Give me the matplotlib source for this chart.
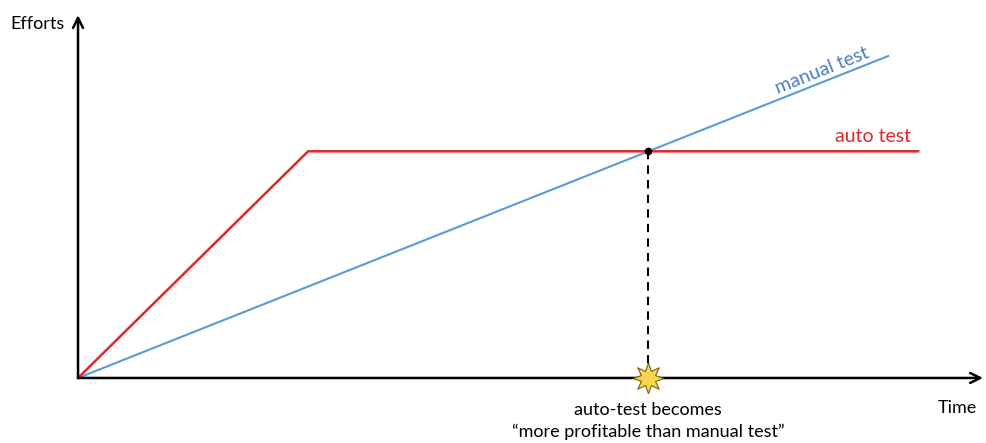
import matplotlib.pyplot as plt

plt.rcParams['font.family'] = ['Lato', 'DejaVu Sans']

# data (time, efforts) in arbitrary units
manual_t = [0, 10.0]
manual_e = [0, 10.0]
auto_t = [0, 2.84, 10.37]
auto_e = [0, 7.04, 7.04]
break_even = (7.04, 7.04)

blue = '#5b9bd5'
red = '#e3262b'

fig = plt.figure(figsize=(9.87, 4.43), dpi=100)
ax = fig.add_axes([0, 0, 1, 1])
ax.set_xlim(-0.963, 11.22)
ax.set_ylim(-2.02, 11.74)
ax.axis('off')

# axes arrows
ax.annotate('', xy=(11.17, 0), xytext=(0, 0),
            arrowprops=dict(arrowstyle='->', color='black', lw=1.8,
                            mutation_scale=18, shrinkA=0, shrinkB=0))
ax.annotate('', xy=(0, 11.27), xytext=(0, 0),
            arrowprops=dict(arrowstyle='->', color='black', lw=1.8,
                            mutation_scale=18, shrinkA=0, shrinkB=0))

ax.plot(manual_t, manual_e, color=blue, lw=1.5)
ax.plot(auto_t, auto_e, color=red, lw=1.8)

bx, by = break_even
ax.plot([bx, bx], [0, by], color='black', lw=1.5, ls=(0, (4, 3)))
ax.plot(bx, by, 'o', color='black', ms=4.5)
ax.plot(bx, 0, marker=(8, 1, 0), color='#f9d44e', mec='#7a6010',
        mew=0.8, ms=22, zorder=5)

ax.text(-0.5, 11.0, 'Efforts', fontsize=13, ha='center', va='center')
ax.text(10.86, -0.93, 'Time', fontsize=13, ha='center', va='center')
ax.text(9.18, 9.56, 'manual test', fontsize=14, color='#4a7fc1',
        rotation=21.7, ha='center', va='center', rotation_mode='anchor')
ax.text(9.81, 7.5, 'auto test', fontsize=14, color=red,
        ha='center', va='center')
ax.text(bx, -0.99, 'auto-test becomes', fontsize=13,
        ha='center', va='center')
ax.text(bx, -1.68, '\u201cmore profitable than manual test\u201d',
        fontsize=13, ha='center', va='center')

fig.savefig('out.png', dpi=100, facecolor='white')
